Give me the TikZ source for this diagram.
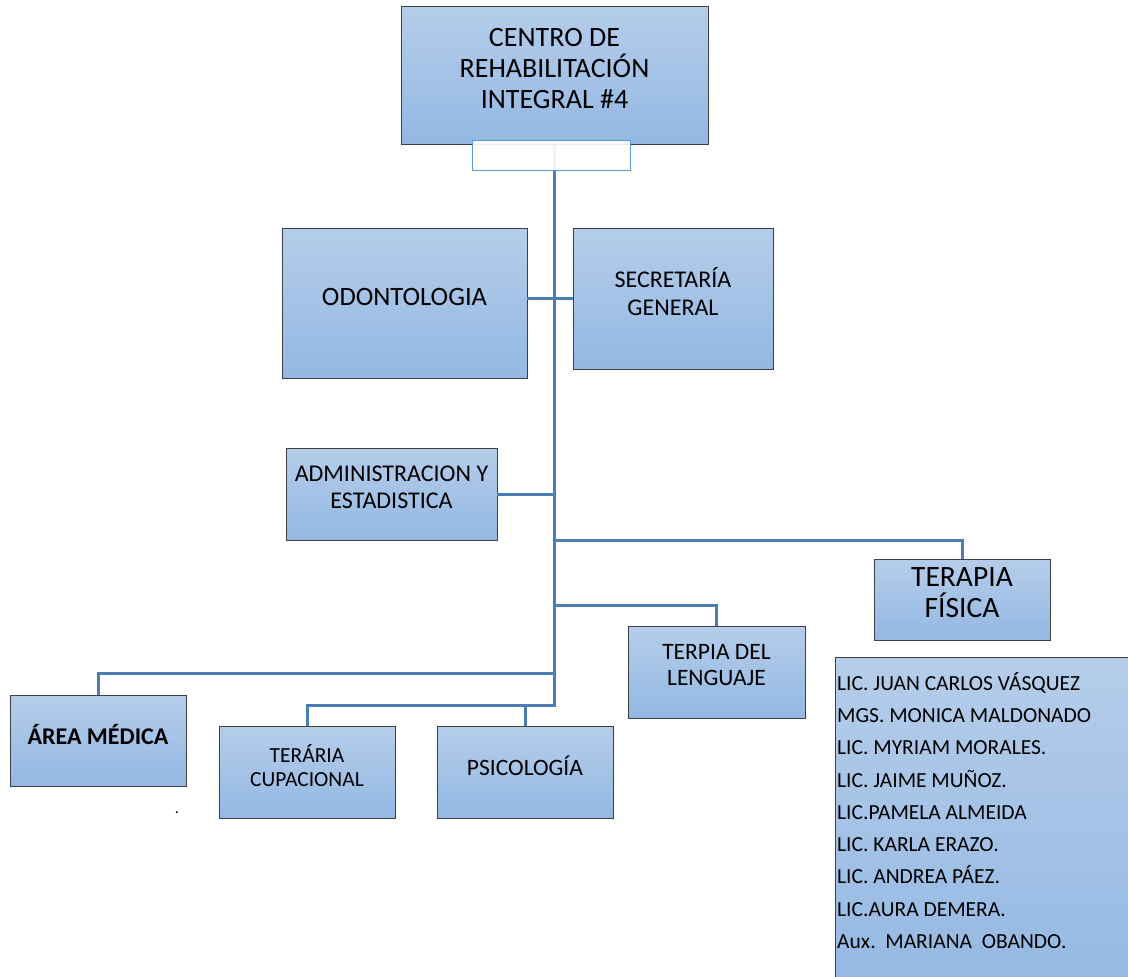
\documentclass[tikz,border=0pt]{standalone}
\usepackage{fontspec}
\setmainfont{Carlito}
\usetikzlibrary{positioning}
\definecolor{boxtop}{HTML}{B5CDEA}
\definecolor{boxbot}{HTML}{93B8E3}
\definecolor{boxline}{HTML}{3F3F3F}
\definecolor{linkblue}{HTML}{4A7EB4}
\definecolor{hubblue}{HTML}{5B9BD5}

\begin{document}
\begin{tikzpicture}[x=1pt, y=-1pt,
  unitbox/.style={draw=boxline, line width=0.9pt, top color=boxtop, bottom color=boxbot, inner sep=0pt},
  boxlbl/.style={yshift=6.5pt, align=center, text=black, inner sep=0pt},
  link/.style={draw=linkblue, line width=3pt}]
  \useasboundingbox (0,0) rectangle (1128,977);

  % Direction
  \node[unitbox, minimum width=307pt, minimum height=138pt,
    label={[boxlbl, font=\fontsize{28}{31}\selectfont]center:CENTRO DE\\REHABILITACIÓN\\INTEGRAL \#4}] (centro) at (554.5,75) {};

  % Trunk
  \coordinate (trunkend) at (554,705);
  \coordinate (jfis) at (554,540);
  \coordinate (jleng) at (554,605);
  \coordinate (jmed) at (554,673);

  \node[unitbox, minimum width=176pt, minimum height=92pt,
    label={[boxlbl, font=\fontsize{21.5}{24}\selectfont]center:TERÁRIA\\CUPACIONAL}] (ocup) at (307,772) {};
  \draw[link] (trunkend |- centro.south) -- (trunkend) -| (ocup.north);

  \node[draw=hubblue, fill=white, fill opacity=0.9, line width=1pt, minimum width=158pt, minimum height=30pt, inner sep=0pt] (hub) at (551,155) {};

  % Upper units
  \node[unitbox, minimum width=245pt, minimum height=150pt,
    label={[boxlbl, font=\fontsize{26.5}{29}\selectfont]center:ODONTOLOGIA}] (odont) at (404.5,303) {};
  \node[unitbox, minimum width=200pt, minimum height=141pt,
    label={[boxlbl, font=\fontsize{24}{28}\selectfont]center:SECRETARÍA\\GENERAL}] (secr) at (673,298.5) {};
  \node[unitbox, minimum width=211pt, minimum height=92pt,
    label={[boxlbl, font=\fontsize{24}{27}\selectfont]center:ADMINISTRACION Y\\ESTADISTICA}] (admin) at (391.5,494) {};

  \draw[link] (odont.east |- secr.west) -- (secr.west);
  \draw[link] (admin.east) -- (admin.east -| trunkend);

  % Therapies
  \node[unitbox, minimum width=176pt, minimum height=81pt,
    label={[boxlbl, font=\fontsize{29.5}{31}\selectfont]center:TERAPIA\\FÍSICA}] (tfis) at (962,599.5) {};
  \node[unitbox, minimum width=177pt, minimum height=92pt,
    label={[boxlbl, font=\fontsize{23.5}{26}\selectfont]center:TERPIA DEL\\LENGUAJE}] (leng) at (716.5,672) {};
  \node[unitbox, minimum width=176pt, minimum height=91pt,
    label={[boxlbl, font=\fontsize{24}{26}\selectfont\bfseries]center:ÁREA MÉDICA}] (medica) at (98,740.5) {};
  \node[unitbox, minimum width=176pt, minimum height=92pt,
    label={[boxlbl, font=\fontsize{23.5}{26}\selectfont]center:PSICOLOGÍA}] (psico) at (525,772) {};

  \draw[link] (jfis) -| (tfis.north);
  \draw[link] (jleng) -| (leng.north);
  \draw[link] (jmed) -| (medica.north);
  \draw[link] (psico.north) -- (psico.north |- trunkend);

  % Staff list
  \node[unitbox, anchor=north west, minimum width=320pt, minimum height=340pt] (staff) at (835,657) {};
  \node[anchor=north west, align=left, inner sep=0pt, text=black, font=\fontsize{21.5}{32.3}\selectfont] (names) at (837,672) {
    LIC. JUAN CARLOS VÁSQUEZ\\
    MGS. MONICA MALDONADO\\
    LIC. MYRIAM MORALES.\\
    LIC. JAIME MUÑOZ.\\
    LIC.PAMELA ALMEIDA\\
    LIC. KARLA ERAZO.\\
    LIC. ANDREA PÁEZ.\\
    LIC.AURA DEMERA.\\
    Aux.~~MARIANA~~OBANDO.
  };

  \node[inner sep=0pt, font=\fontsize{16}{16}\selectfont] (dot) at (177,813) {.};
\end{tikzpicture}
\end{document}
